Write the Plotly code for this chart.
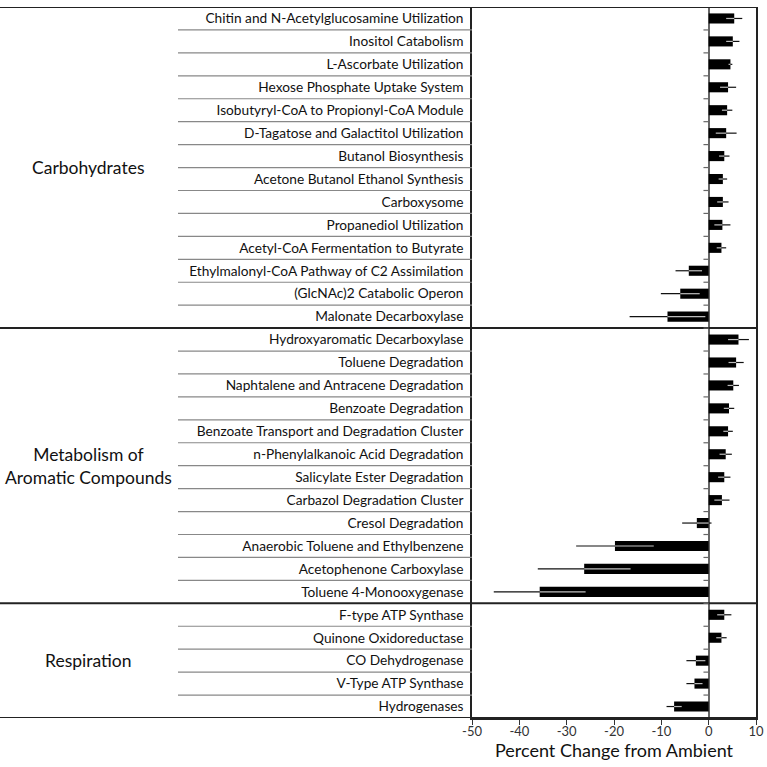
import plotly.graph_objects as go

categories = [
    "Chitin and N-Acetylglucosamine Utilization",
    "Inositol Catabolism",
    "L-Ascorbate Utilization",
    "Hexose Phosphate Uptake System",
    "Isobutyryl-CoA to Propionyl-CoA Module",
    "D-Tagatose and Galactitol Utilization",
    "Butanol Biosynthesis",
    "Acetone Butanol Ethanol Synthesis",
    "Carboxysome",
    "Propanediol Utilization",
    "Acetyl-CoA Fermentation to Butyrate",
    "Ethylmalonyl-CoA Pathway of C2 Assimilation",
    "(GlcNAc)2 Catabolic Operon",
    "Malonate Decarboxylase",
    "Hydroxyaromatic Decarboxylase",
    "Toluene Degradation",
    "Naphtalene and Antracene Degradation",
    "Benzoate Degradation",
    "Benzoate Transport and Degradation Cluster",
    "n-Phenylalkanoic Acid Degradation",
    "Salicylate Ester Degradation",
    "Carbazol Degradation Cluster",
    "Cresol Degradation",
    "Anaerobic Toluene and Ethylbenzene",
    "Acetophenone Carboxylase",
    "Toluene 4-Monooxygenase",
    "F-type ATP Synthase",
    "Quinone Oxidoreductase",
    "CO Dehydrogenase",
    "V-Type ATP Synthase",
    "Hydrogenases",
]
values = [5.4, 5.1, 4.6, 4.1, 3.9, 3.7, 3.3, 3.0, 3.0, 2.9, 2.7, -4.2, -6.0, -8.7,
          6.3, 5.8, 5.2, 4.3, 4.1, 3.6, 3.3, 2.8, -2.5, -19.8, -26.3, -35.7,
          3.3, 2.7, -2.7, -3.0, -7.3]
errors = [1.7, 1.4, 0.4, 1.7, 1.1, 2.2, 1.1, 0.9, 1.2, 1.7, 1.0, 2.8, 4.1, 8.0,
          2.2, 1.6, 1.2, 1.1, 1.0, 1.3, 1.3, 1.6, 3.1, 8.2, 9.8, 9.7,
          1.5, 1.1, 2.0, 1.7, 1.6]
sections = ["Carbohydrates", "Metabolism of<br>Aromatic Compounds", "Respiration"]
section_sizes = [14, 12, 5]
x_ticks = [-50, -40, -30, -20, -10, 0, 10]
x_title = "Percent Change from Ambient"

W = H = 767
ml, mr, mt, mb = 472, 11, 7, 49
pw = W - ml - mr


def pxx(p):
    return (p - ml) / pw


FONT = "Lato"
fig = go.Figure()
fig.add_trace(go.Bar(
    y=categories, x=values, orientation="h",
    marker=dict(color="black", line=dict(width=0)),
    width=0.44,
    error_x=dict(type="data", array=errors, color="#111", thickness=1.2, width=0),
    showlegend=False, hoverinfo="x+y",
))

# light inner part of error bar (portion overlapping the bar)
ix, iy = [], []
for c, v, e in zip(categories, values, errors):
    d = min(e, abs(v))
    s = -1 if v > 0 else 1
    ix += [v, v + s * d, None]
    iy += [c, c, None]
fig.add_trace(go.Scatter(x=ix, y=iy, mode="lines",
                         line=dict(color="#bbbbbb", width=1.2),
                         showlegend=False, hoverinfo="skip"))

shapes = []
n = len(categories)
starts = []
s0 = 0
for sz in section_sizes:
    starts.append(s0)
    s0 += sz
# label underlines
for st, sz in zip(starts, section_sizes):
    for k in range(sz - 1):
        yb = st + k + 0.5
        shapes.append(dict(type="line", xref="paper", yref="y",
                           x0=pxx(178), x1=0, y0=yb, y1=yb,
                           line=dict(color="#888888", width=1.2)))
# section lines
for yb in [st - 0.5 for st in starts] + [n - 0.5]:
    shapes.append(dict(type="line", xref="paper", yref="y",
                       x0=pxx(0), x1=pxx(757), y0=yb, y1=yb,
                       line=dict(color="#222222", width=2)))
# small ticks on zero line at category boundaries
for i in range(n - 1):
    shapes.append(dict(type="line", xref="x", yref="y",
                       x0=-1.1, x1=0, y0=i + 0.5, y1=i + 0.5,
                       line=dict(color="#666666", width=1.2)))

annotations = []
for name, st, sz in zip(sections, starts, section_sizes):
    annotations.append(dict(text=name, xref="paper", yref="y",
                            x=pxx(88), y=st + (sz - 1) / 2,
                            showarrow=False, xanchor="center", yanchor="middle",
                            align="center",
                            font=dict(family=FONT, size=17.5, color="#111")))

fig.update_layout(
    width=W, height=H,
    margin=dict(l=ml, r=mr, t=mt, b=mb, autoexpand=False),
    paper_bgcolor="white", plot_bgcolor="white",
    shapes=shapes, annotations=annotations,
    xaxis=dict(range=[-50, 10], tickvals=x_ticks, ticktext=[str(v) for v in x_ticks],
               ticks="outside", ticklen=5, automargin=False,
               ticklabelstandoff=-4,
               tickcolor="#333", showline=True, linecolor="#222", linewidth=1.5,
               showgrid=False, zeroline=True, zerolinecolor="#666",
               zerolinewidth=1.5,
               tickfont=dict(family=FONT, size=13, color="#333"),
               title=dict(text=x_title, standoff=6,
                          font=dict(family=FONT, size=18, color="#111"))),
    yaxis=dict(categoryorder="array", categoryarray=categories,
               range=[n - 0.5, -0.5], automargin=False,
               showgrid=False, zeroline=False,
               showline=True, mirror=True, linecolor="#222", linewidth=1.5,
               ticks="", ticklabelstandoff=4,
               tickfont=dict(family=FONT, size=13.7, color="#111")),
    font=dict(family=FONT),
)
fig.write_html("out.html", config={"displayModeBar": False},
               post_script="document.body.style.margin='0';document.body.style.overflow='hidden';")
